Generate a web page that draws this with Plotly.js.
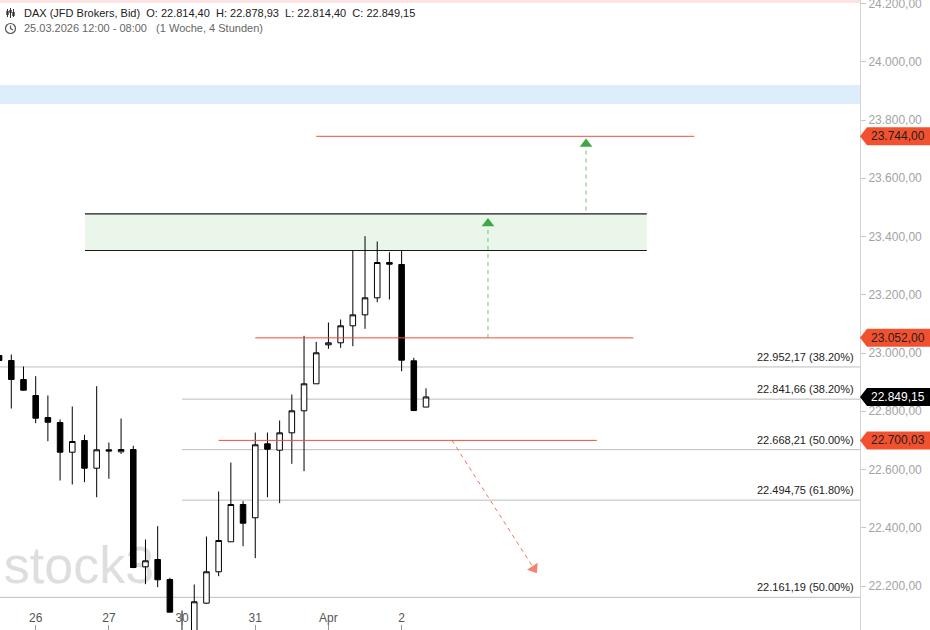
<!DOCTYPE html>
<html>
<head>
<meta charset="utf-8">
<script src="https://cdn.plot.ly/plotly-3.0.1.min.js"></script>
<style>
html, body { margin: 0; padding: 0; background: #ffffff; }
#chart { width: 930px; height: 630px; }
</style>
</head>
<body>
<div id="chart"></div>
<script>
// ---------- data (4h candles, DAX JFD Brokers Bid) ----------
const open = [22991.4, 22974.3, 22909.0, 22854.1, 22778.6, 22761.4, 22659.4, 22699.6, 22604.5, 22667.7,
              22660.8, 22668.7, 22266.0, 22291.1, 22222.4, 22030.0, 21995.0, 22141.1, 22248.9, 22351.9,
              22479.9, 22434.3, 22688.3, 22666.3, 22726.0, 22801.6, 22894.3, 23028.2, 23035.0, 23093.4,
              23131.1, 23189.5, 23310.7, 23303.8, 22973.2, 22814.40];
const high = [23001.7, 22994.9, 22953.7, 22920.4, 22854.1, 22771.7, 22816.3, 22719.2, 22886.0, 22692.7,
              22775.1, 22681.4, 22359.7, 22405.4, 22228.3, 22116.0, 22205.3, 22370.0, 22524.5, 22624.1,
              22491.2, 22727.1, 22727.1, 22768.3, 22857.5, 23059.0, 23038.4, 23104.7, 23115.0, 23351.9,
              23401.0, 23382.8, 23346.0, 23351.9, 22983.5, 22878.93];
const low = [22967.4, 22809.5, 22871.3, 22759.0, 22697.2, 22562.3, 22548.6, 22556.5, 22504.9, 22568.1,
             22653.9, 22261.2, 22206.3, 22196.0, 22110.2, 21900.0, 21960.0, 22139.0, 22233.8, 22351.9,
             22336.7, 22295.6, 22504.9, 22484.4, 22619.6, 22594.2, 22894.3, 23014.4, 23017.9, 23023.3,
             23083.1, 23174.4, 23183.7, 22937.5, 22800.2, 22814.40];
const close = [22974.3, 22909.0, 22872.3, 22776.2, 22762.4, 22659.4, 22696.2, 22604.5, 22667.7, 22663.6,
               22668.7, 22263.6, 22286.6, 22221.4, 22110.2, 21990.0, 22145.9, 22248.9, 22356.3, 22479.9,
               22415.7, 22684.9, 22669.7, 22726.0, 22801.6, 22894.3, 23000.7, 23035.0, 23093.4, 23131.1,
               23189.5, 23310.7, 23304.9, 22975.3, 22802.6, 22849.15];

const dayTickSlots = [3, 9, 15, 21, 27, 33];
const dayTickLabels = ['26', '27', '30', '31', 'Apr', '2'];

const priceTicks = [22200, 22400, 22600, 22800, 23000, 23200, 23400, 23600, 23800, 24000, 24200];
const priceTickLabels = ['22.200,00', '22.400,00', '22.600,00', '22.800,00', '23.000,00', '23.200,00',
                         '23.400,00', '23.600,00', '23.800,00', '24.000,00', '24.200,00'];

const fibLevels = [22952.17, 22841.66, 22668.21, 22494.75, 22161.19];
const fibLabels = ['22.952,17 (38.20%)', '22.841,66 (38.20%)', '22.668,21 (50.00%)',
                   '22.494,75 (61.80%)', '22.161,19 (50.00%)'];

const targetLevels = [23744.00, 23052.00, 22700.03];
const targetLabels = ['23.744,00', '23.052,00', '22.700,03'];

const lastPrice = 22849.15;
const lastPriceLabel = '22.849,15';

const resistanceZone = [23351.9, 23477.9];
const blueZone = [23855, 23920];
const pinkZone = [24202, 24500];

const headerLine1 = 'DAX (JFD Brokers, Bid)\u00a0\u00a0O: 22.814,40\u00a0\u00a0H: 22.878,93\u00a0\u00a0L: 22.814,40\u00a0\u00a0C: 22.849,15';
const headerLine2 = '25.03.2026 12:00 - 08:00\u00a0\u00a0\u00a0(1 Woche, 4 Stunden)';

// ---------- drawing configuration ----------
const FONT = 'Liberation Sans, Arial, sans-serif';
const W = 930, H = 630, MR = 70;
const PW = W - MR;              // plot width in px
const yRange = [22049, 24212];
const xRange = [0.074, 70.58];
const slots = open.map((_, i) => i);

const fibStartSlot = [null, 15, 15, 15, null];   // null = from left edge
const targetStartSlot = [26, 21, 18];
const targetEndSlot = [57, 52, 49];
const zoneSlots = [7.04, 53.1];

const RED = '#ee4f36';
const TAG_RED = '#f2512f';
const GREEN = '#3fa846';

function py(v) { return (v - yRange[0]) / (yRange[1] - yRange[0]); }
function pxX(px) { return px / PW; }
function pxY(p) { return 1 - p / H; }

// ---------- traces ----------
const traces = [];

traces.push({
  type: 'candlestick',
  x: slots, open: open, high: high, low: low, close: close,
  increasing: { line: { color: '#000000', width: 1 }, fillcolor: '#ffffff' },
  decreasing: { line: { color: '#000000', width: 1 }, fillcolor: '#000000' },
  whiskerwidth: 0,
  hoverinfo: 'skip'
});

// arrows (dashed shaft + triangular head)
const arrowUp1 = { x: [40.08, 40.08], y: [targetLevels[1], 23427] };
const arrowUp2 = { x: [48.12, 48.12], y: [23489, 23702] };
const arrowDown = { x: [37.13, 43.84], y: [targetLevels[2], 22260] };

[arrowUp1, arrowUp2].forEach(a => {
  traces.push({ type: 'scatter', mode: 'lines', x: a.x, y: a.y,
    line: { color: '#74c174', width: 1, dash: '4px,4px' }, hoverinfo: 'skip' });
});
traces.push({ type: 'scatter', mode: 'markers', x: [40.08, 48.12], y: [23445, 23718],
  marker: { symbol: 'triangle-up', size: 11, color: GREEN, line: { width: 0 } }, hoverinfo: 'skip' });
traces.push({ type: 'scatter', mode: 'lines+markers', x: arrowDown.x, y: arrowDown.y,
  line: { color: '#f3735f', width: 1, dash: '4px,4px' },
  marker: { symbol: ['circle', 'triangle-up'], size: [0, 11], color: '#f04d33', angleref: 'previous', line: { width: 0 } },
  hoverinfo: 'skip' });

// ---------- shapes ----------
const shapes = [];

// watermark (below traces)
shapes.push({ type: 'rect', xref: 'paper', yref: 'paper', layer: 'below',
  x0: pxX(2), x1: pxX(156), y0: pxY(585), y1: pxY(535),
  line: { width: 0 }, fillcolor: 'rgba(0,0,0,0)',
  label: { text: 'stock3', textposition: 'middle center',
           font: { family: FONT, size: 52, color: '#dedede' } } });

shapes.push({ type: 'rect', xref: 'paper', yref: 'y', layer: 'below', x0: 0, x1: 1,
  y0: pinkZone[0], y1: pinkZone[1], fillcolor: '#fde4e4', line: { width: 0 } });
shapes.push({ type: 'rect', xref: 'paper', yref: 'y', layer: 'below', x0: 0, x1: 1,
  y0: blueZone[0], y1: blueZone[1], fillcolor: '#deedfb', line: { width: 0 } });

shapes.push({ type: 'rect', xref: 'x', yref: 'y', layer: 'below', x0: zoneSlots[0], x1: zoneSlots[1],
  y0: resistanceZone[0], y1: resistanceZone[1], fillcolor: '#e9f6e9', line: { width: 0 } });
resistanceZone.forEach(v => {
  shapes.push({ type: 'line', xref: 'x', yref: 'y', layer: 'below', x0: zoneSlots[0], x1: zoneSlots[1],
    y0: v, y1: v, line: { color: '#1a1a1a', width: 1.2 } });
});

fibLevels.forEach((v, i) => {
  const s = fibStartSlot[i];
  if (s === null) {
    shapes.push({ type: 'line', xref: 'paper', yref: 'y', layer: 'below', x0: 0, x1: 1, y0: v, y1: v,
      line: { color: '#bdbdbd', width: 1 } });
  } else {
    shapes.push({ type: 'line', xref: 'x', yref: 'y', layer: 'below', x0: s, x1: xRange[1] + 2, y0: v, y1: v,
      line: { color: '#bdbdbd', width: 1 } });
  }
});

targetLevels.forEach((v, i) => {
  shapes.push({ type: 'line', xref: 'x', yref: 'y', layer: 'above',
    x0: targetStartSlot[i], x1: targetEndSlot[i], y0: v, y1: v, line: { color: RED, width: 1 } });
});

// price tags on the right axis
function tagPath(v) {
  const yc = py(v), h = 9 / H;
  const xp = 1, xb = 1 + 7 / PW, xe = 1 + 70 / PW;
  return `M ${xp} ${yc} L ${xb} ${yc + h} L ${xe} ${yc + h} L ${xe} ${yc - h} L ${xb} ${yc - h} Z`;
}
targetLevels.forEach(v => {
  shapes.push({ type: 'path', xref: 'paper', yref: 'paper', path: tagPath(v),
    fillcolor: TAG_RED, line: { width: 0 }, layer: 'above' });
});
shapes.push({ type: 'path', xref: 'paper', yref: 'paper', path: tagPath(lastPrice),
  fillcolor: '#000000', line: { width: 0 }, layer: 'above' });

// header icons
// candle icon
[[7.5, 9, 17, 11, 15], [10.5, 8, 18, 10, 13], [13.5, 9, 17, 12, 16]].forEach(c => {
  shapes.push({ type: 'line', xref: 'paper', yref: 'paper', x0: pxX(c[0]), x1: pxX(c[0]),
    y0: pxY(c[1]), y1: pxY(c[2]), line: { color: '#333', width: 1 } });
  shapes.push({ type: 'rect', xref: 'paper', yref: 'paper', x0: pxX(c[0] - 1.2), x1: pxX(c[0] + 1.2),
    y0: pxY(c[3]), y1: pxY(c[4]), fillcolor: '#333', line: { width: 0 } });
});
// clock icon
shapes.push({ type: 'circle', xref: 'paper', yref: 'paper', x0: pxX(5.5), x1: pxX(15.5),
  y0: pxY(23.5), y1: pxY(33.5), line: { color: '#555', width: 1.2 }, fillcolor: 'rgba(0,0,0,0)' });
shapes.push({ type: 'path', xref: 'paper', yref: 'paper',
  path: `M ${pxX(10.5)} ${pxY(25.5)} L ${pxX(10.5)} ${pxY(28.5)} L ${pxX(13)} ${pxY(30)}`,
  line: { color: '#555', width: 1.2 } });

// ---------- annotations ----------
const annotations = [];

annotations.push({ xref: 'paper', yref: 'paper', x: pxX(22), y: pxY(13), xanchor: 'left', yanchor: 'middle',
  text: headerLine1, showarrow: false, font: { family: FONT, size: 11, color: '#222222' } });
annotations.push({ xref: 'paper', yref: 'paper', x: pxX(22), y: pxY(28.5), xanchor: 'left', yanchor: 'middle',
  text: headerLine2, showarrow: false, font: { family: FONT, size: 11, color: '#666666' } });

fibLevels.forEach((v, i) => {
  annotations.push({ xref: 'paper', yref: 'y', x: pxX(856), y: v, xanchor: 'right', yanchor: 'bottom',
    yshift: 2, text: fibLabels[i], showarrow: false, font: { family: FONT, size: 11, color: '#222222' } });
});

targetLevels.forEach((v, i) => {
  annotations.push({ xref: 'paper', yref: 'y', x: pxX(869), y: v, xanchor: 'left', yanchor: 'middle',
    text: targetLabels[i], showarrow: false, font: { family: FONT, size: 12, color: '#1e1e1e' } });
});
annotations.push({ xref: 'paper', yref: 'y', x: pxX(869), y: lastPrice, xanchor: 'left', yanchor: 'middle',
  text: lastPriceLabel, showarrow: false, font: { family: FONT, size: 12, color: '#ffffff' } });

// ---------- layout ----------
const layout = {
  width: W, height: H,
  margin: { l: 0, r: MR, t: 0, b: 0, pad: 0 },
  paper_bgcolor: '#ffffff', plot_bgcolor: '#ffffff',
  showlegend: false, hovermode: false, dragmode: false,
  boxgap: 0.35,
  font: { family: FONT },
  xaxis: {
    type: 'linear', range: xRange, fixedrange: true,
    rangeslider: { visible: false },
    showgrid: false, zeroline: false, showline: false,
    tickmode: 'array', tickvals: dayTickSlots, ticktext: dayTickLabels,
    ticks: 'inside', ticklen: 5, tickcolor: '#999999', tickwidth: 1,
    ticklabelposition: 'inside',
    tickfont: { family: FONT, size: 12, color: '#555555' }
  },
  yaxis: {
    side: 'right', range: yRange, fixedrange: true,
    showgrid: false, zeroline: false,
    showline: true, linecolor: '#d4d4d4', linewidth: 1,
    tickmode: 'array', tickvals: priceTicks, ticktext: priceTickLabels,
    ticks: 'outside', ticklen: 5, tickcolor: '#c8c8c8', tickwidth: 1,
    ticklabeloverflow: 'allow',
    tickfont: { family: FONT, size: 12, color: '#a3a3a3' }
  },
  shapes: shapes,
  annotations: annotations
};

Plotly.newPlot('chart', traces, layout, { displayModeBar: false, staticPlot: true });
</script>
</body>
</html>
